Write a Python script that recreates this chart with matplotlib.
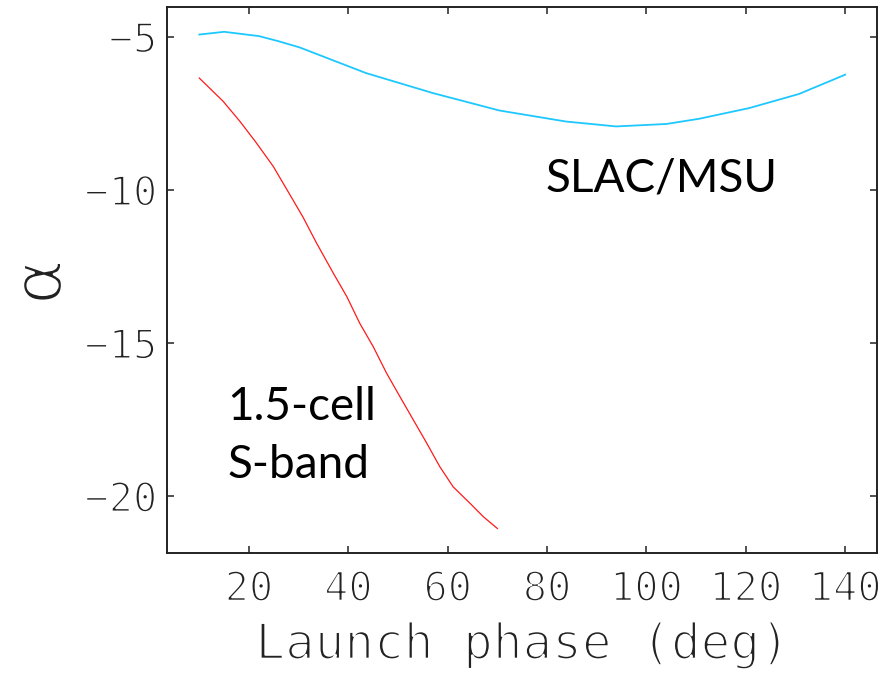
import matplotlib
matplotlib.use("Agg")
import matplotlib.pyplot as plt
import matplotlib.patheffects as pe

# Launch phase (deg) and alpha for the two guns
slac_phase = [10, 15, 22, 26, 30.2, 43.6, 57.0, 70.4, 83.8, 93.9, 104, 110.6, 120.7, 130.7, 140]
slac_alpha = [-4.93, -4.84, -4.98, -5.15, -5.35, -6.19, -6.84, -7.41, -7.77, -7.93, -7.85,
              -7.68, -7.33, -6.87, -6.24]

sband_phase = [10, 14.8, 18.2, 21.5, 24.9, 28.2, 30.9, 33.6, 37.0, 39.7, 42.3, 45.0, 47.7,
               50.4, 53.1, 55.8, 58.4, 61.1, 64.5, 67.2, 70]
sband_alpha = [-6.35, -7.11, -7.77, -8.47, -9.24, -10.15, -10.9, -11.74, -12.73, -13.49,
               -14.36, -15.12, -15.99, -16.76, -17.52, -18.28, -19.04, -19.70, -20.24,
               -20.68, -21.06]

x_ticks = [20, 40, 60, 80, 100, 120, 140]
y_ticks = [-5, -10, -15, -20]

W, H = 896, 673
fig = plt.figure(figsize=(W / 100, H / 100), dpi=100)
ax = fig.add_axes([167 / W, 1 - 553 / H, (877 - 167) / W, (553 - 7) / H])

ax.plot(slac_phase, slac_alpha, color="#1ec8ff", lw=1.3)
ax.plot(sband_phase, sband_alpha, color="#ff1a1a", lw=0.9)

ax.set_xlim(3.5, 146.4)
ax.set_ylim(-21.86, -4.03)

thin = [pe.Stroke(linewidth=1.4, foreground="white")]
mono = "DejaVu Sans Mono"

ax.set_xticks(x_ticks)
ax.set_yticks(y_ticks)
ax.set_xticklabels([str(v) for v in x_ticks])
ax.set_yticklabels(["\u2212" + str(-v) for v in y_ticks])
for lbl in ax.get_xticklabels() + ax.get_yticklabels():
    lbl.set_fontfamily(mono)
    lbl.set_fontsize(29)
    lbl.set_color("#222222")
    lbl.set_path_effects(thin)

ax.tick_params(axis="both", which="major", direction="in", length=5, width=1.1,
               top=True, right=True, color="#222222")
ax.tick_params(axis="x", pad=12)
ax.tick_params(axis="y", pad=7)
for s in ax.spines.values():
    s.set_linewidth(1.4)
    s.set_color("#222222")

ax.set_xlabel("Launch phase (deg)", fontfamily=mono, fontsize=35.5, color="#222222",
              labelpad=8, path_effects=[pe.Stroke(linewidth=1.6, foreground="white")])

fig.text(42 / W, 1 - 282 / H, "\u03b1", rotation=90, ha="center", va="center",
         fontsize=50, fontfamily="DejaVu Sans", color="#222222",
         path_effects=[pe.Stroke(linewidth=2.2, foreground="white")])

ann = dict(fontfamily=["Lato", "DejaVu Sans"], fontsize=33, color="black",
           ha="left", va="baseline")
ax.text(79.6, -10.07, "SLAC/MSU", **ann)
ax.text(15.6, -17.52, "1.5-cell", **ann)
ax.text(15.6, -19.41, "S-band", **ann)

fig.savefig("out.png", dpi=100, facecolor="white")
